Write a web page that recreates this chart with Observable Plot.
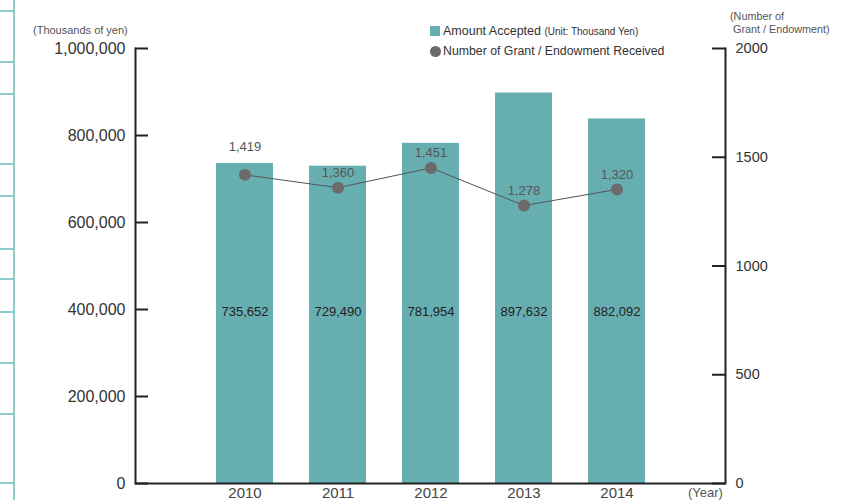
<!DOCTYPE html>
<html><head><meta charset="utf-8">
<script src="https://cdn.jsdelivr.net/npm/d3@7"></script>
<script src="https://cdn.jsdelivr.net/npm/@observablehq/plot@0.6"></script>
<style>
body{margin:0;background:#fff;font-family:"Liberation Sans",Arial,sans-serif}
#wrap{position:relative;width:858px;height:500px;overflow:hidden}
.abs{position:absolute;white-space:nowrap;line-height:1}
.hl{position:absolute;left:0;width:14px;height:1.5px;background:#8fcacd}
</style></head>
<body><div id="wrap"></div>
<script>
// ---- data ----
const years = ["2010", "2011", "2012", "2013", "2014"];
const amounts = [735652, 729490, 781954, 897632, 838000];          // bar heights as drawn
const amountLabels = ["735,652", "729,490", "781,954", "897,632", "882,092"];
const grants = [1419, 1360, 1451, 1278, 1352];                      // dot heights as drawn
const grantLabels = ["1,419", "1,360", "1,451", "1,278", "1,320"];
const amountTicks = [0, 200000, 400000, 600000, 800000, 1000000];
const grantTicks = [0, 500, 1000, 1500, 2000];
const RATIO = 1000000 / 2000;

const rows = years.map((year, i) => ({
  year, amount: amounts[i], amountLabel: amountLabels[i],
  grantY: grants[i] * RATIO, grantLabel: grantLabels[i]
}));

const W = 858, H = 500, mL = 135, mR = 133, mT = 48, mB = 17;
const frameW = W - mL - mR;
const axisColor = "#222";

const chart = Plot.plot({
  width: W, height: H,
  marginLeft: mL, marginRight: mR, marginTop: mT, marginBottom: mB,
  style: {fontFamily: '"Liberation Sans", Arial, sans-serif', background: "transparent", overflow: "visible"},
  x: {type: "band", domain: years, paddingInner: 0.39, paddingOuter: 0.86, axis: null},
  y: {domain: [0, 1000000], axis: null},
  marks: [
    Plot.barY(rows, {x: "year", y: "amount", fill: "#67aeb0"}),
    Plot.ruleY(amountTicks, {y: d => d, insetRight: frameW - 13, stroke: axisColor, strokeWidth: 2}),
    Plot.ruleY(grantTicks, {y: d => d * RATIO, insetLeft: frameW - 13, stroke: axisColor, strokeWidth: 2}),
    Plot.frame({anchor: "left", stroke: axisColor, strokeWidth: 2}),
    Plot.frame({anchor: "right", stroke: axisColor, strokeWidth: 2}),
    Plot.ruleY([0], {stroke: axisColor, strokeWidth: 2}),
    Plot.axisY(amountTicks, {anchor: "left", label: null, tickSize: 0, tickPadding: 10,
      tickFormat: d3.format(","), fontSize: 16, fill: "#333"}),
    Plot.axisY(grantTicks.map(d => d * RATIO), {anchor: "right", label: null, tickSize: 0, tickPadding: 10,
      tickFormat: d => String(d / RATIO), fontSize: 14.5, fill: "#333"}),
    Plot.axisX(years, {anchor: "bottom", label: null, tickSize: 0, tickPadding: 4, fontSize: 15, fill: "#444"}),
    Plot.lineY(rows, {x: "year", y: "grantY", stroke: "#555", strokeWidth: 1}),
    Plot.dot(rows, {x: "year", y: "grantY", r: 6, fill: "#6b6b6b", stroke: "none"}),
    Plot.text(rows, {filter: d => d.year === "2010", x: "year", y: "grantY", text: "grantLabel", dy: -28, fontSize: 13, fill: "#555"}),
    Plot.text(rows, {filter: d => d.year !== "2010", x: "year", y: "grantY", text: "grantLabel", dy: -15, fontSize: 13, fill: "#555"}),
    Plot.text(rows, {x: "year", text: "amountLabel", frameAnchor: "middle", dy: 46, fontSize: 13, fill: "#222"})
  ]
});

const wrap = document.getElementById("wrap");
wrap.appendChild(chart);
chart.style.position = "absolute";
chart.style.left = "0px";
chart.style.top = "0px";

// decorative side strip
const strip = document.createElement("div");
strip.style.cssText = "position:absolute;left:13px;top:0;width:1.5px;height:500px;background:#8fcacd";
wrap.appendChild(strip);
[10, 61, 93, 163, 195, 248, 278, 311, 362, 413, 482].forEach(y => {
  const h = document.createElement("div");
  h.className = "hl"; h.style.top = y + "px"; wrap.appendChild(h);
});

function addText(html, css) {
  const d = document.createElement("div");
  d.className = "abs"; d.innerHTML = html; d.style.cssText += css; wrap.appendChild(d);
  return d;
}
addText("(Thousands of yen)", "left:33px;top:25px;font-size:11px;color:#555;");
addText("", "left:430px;top:26px;width:10px;height:10px;background:#67aeb0;");
addText('Amount Accepted <span style="font-size:10px">(Unit: Thousand Yen)</span>', "left:443px;top:25px;font-size:12.5px;color:#333;");
addText("", "left:430px;top:46px;width:11px;height:11px;border-radius:50%;background:#6b6b6b;");
addText("Number of Grant / Endowment Received", "left:443px;top:45px;font-size:12.3px;color:#333;");
addText("(Number of<br>&nbsp;Grant / Endowment)", "left:730px;top:10px;font-size:10.8px;line-height:13px;color:#555;");
addText("(Year)", "left:688px;top:486px;font-size:13px;color:#555;");
</script>
</body></html>
